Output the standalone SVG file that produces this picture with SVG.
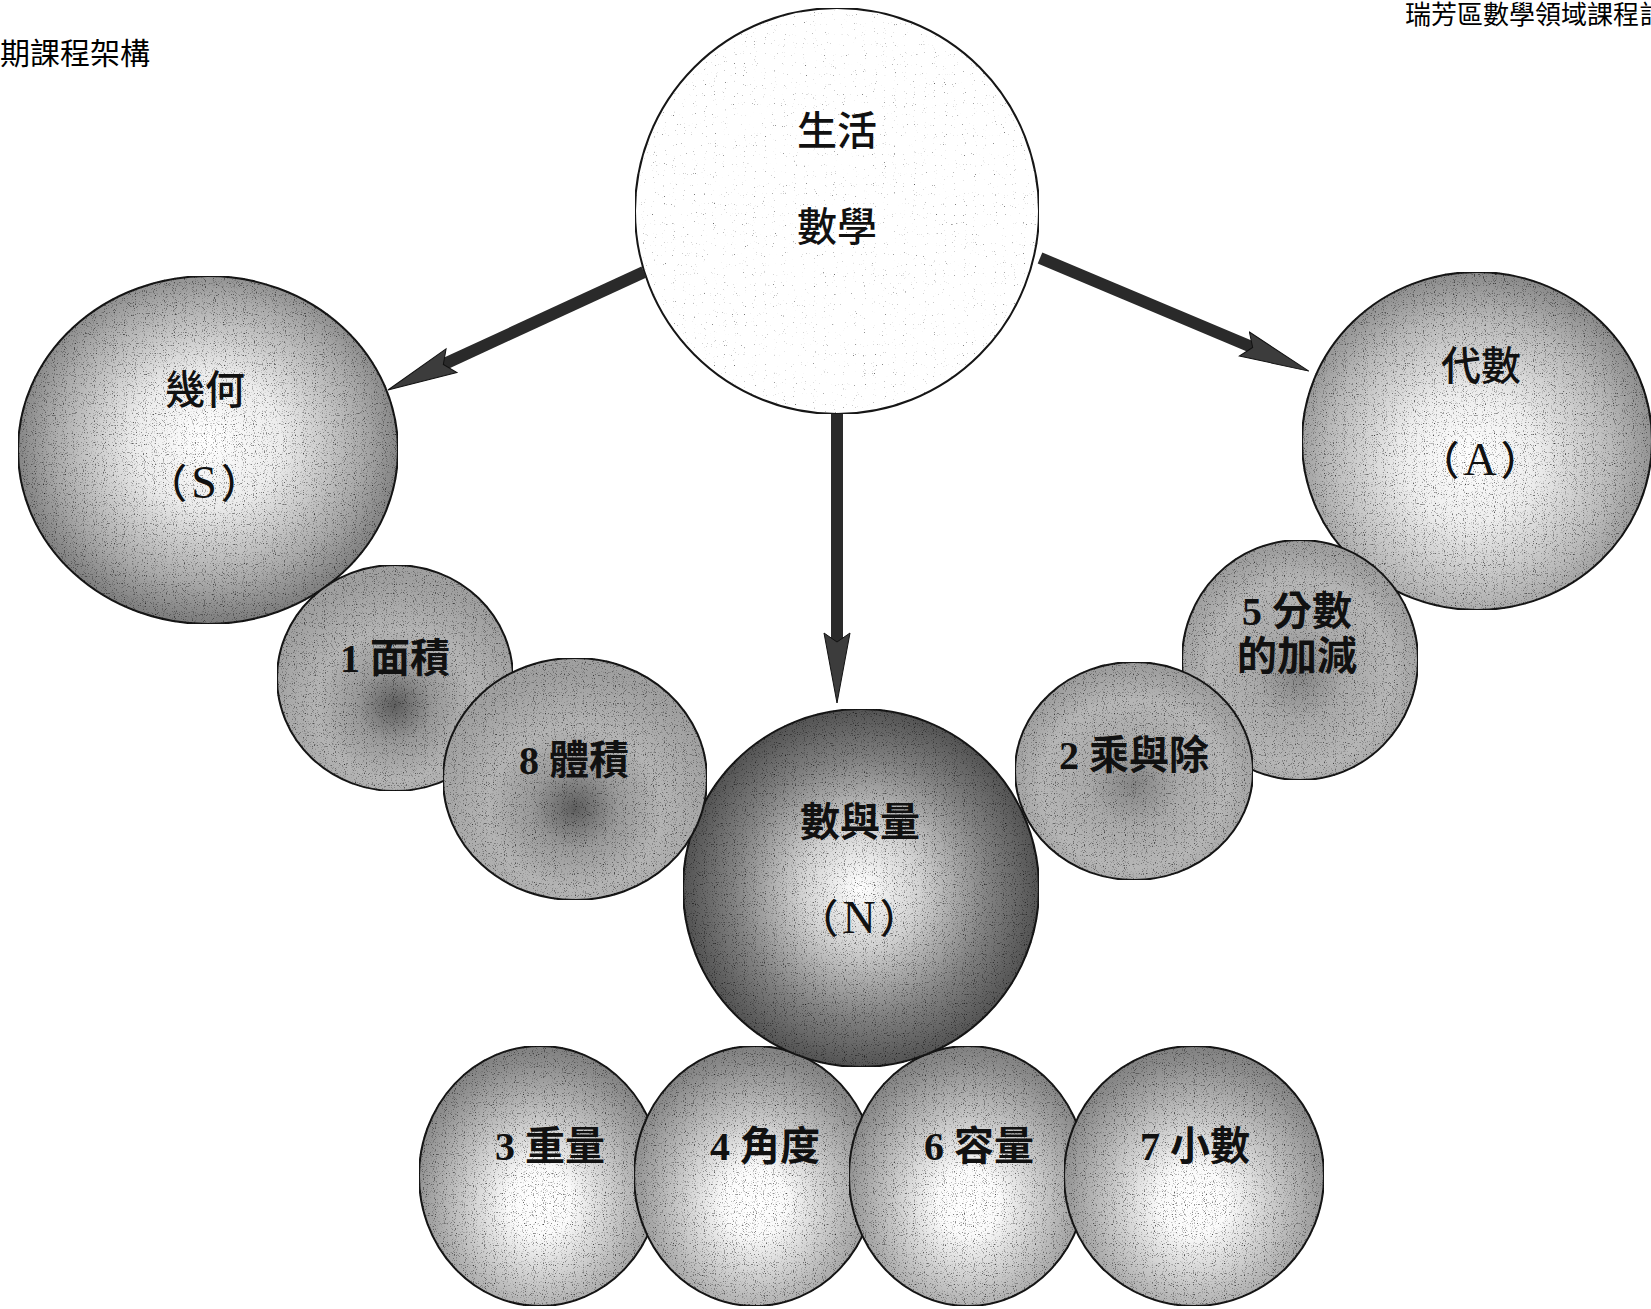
<svg xmlns="http://www.w3.org/2000/svg" width="1651" height="1309" viewBox="0 0 1651 1309">
<style>
.lbl{font-family:"Liberation Serif","Noto Sans CJK TC",serif;text-anchor:middle;fill:#111}
.big{font-size:40px;font-weight:500}
.sm{font-size:40px;font-weight:700}
.par{letter-spacing:4px}
.ltr{font-size:46px}
.node{stroke:#161616;stroke-width:2;filter:url(#grain)}
.hdr{font-family:"Noto Sans CJK TC","Liberation Sans",sans-serif;fill:#000}
.arrow{stroke:#2a2a2a;stroke-width:12;fill:none;marker-end:url(#ah)}
</style>
<defs>
<filter id="grain" x="0" y="0" width="1" height="1" color-interpolation-filters="sRGB">
<feTurbulence type="fractalNoise" baseFrequency="0.9" numOctaves="1" seed="4" result="n"/>
<feColorMatrix in="n" type="matrix" values="0 0 0 0 0 0 0 0 0 0 0 0 0 0 0 2.8 0 0 0 -1.6" result="sp"/>
<feComposite in="sp" in2="SourceGraphic" operator="in" result="s2"/>
<feMerge><feMergeNode in="SourceGraphic"/><feMergeNode in="s2"/></feMerge>
</filter>
<filter id="grainLight" x="0" y="0" width="1" height="1" color-interpolation-filters="sRGB">
<feTurbulence type="fractalNoise" baseFrequency="0.9" numOctaves="1" seed="7" result="n"/>
<feColorMatrix in="n" type="matrix" values="0 0 0 0 0 0 0 0 0 0 0 0 0 0 0 4 0 0 0 -2.75" result="sp"/>
<feComposite in="sp" in2="SourceGraphic" operator="in" result="s2"/>
<feMerge><feMergeNode in="SourceGraphic"/><feMergeNode in="s2"/></feMerge>
</filter>
<marker id="ah" markerUnits="userSpaceOnUse" markerWidth="72" markerHeight="32" viewBox="0 0 72 32" refX="16" refY="16" orient="auto">
<path d="M1,3 L71,16 L1,29 L10,16 Z" fill="#3c3c3c" stroke="#111" stroke-width="1"/>
</marker>
<radialGradient id="gS" cx="0.5" cy="0.47" r="0.55">
<stop offset="0" stop-color="#fff"/><stop offset="0.35" stop-color="#ececec"/><stop offset="0.75" stop-color="#a8a8a8"/><stop offset="1" stop-color="#747474"/>
</radialGradient>
<radialGradient id="gA" cx="0.48" cy="0.55" r="0.55">
<stop offset="0" stop-color="#fff"/><stop offset="0.35" stop-color="#ededed"/><stop offset="0.75" stop-color="#b8b8b8"/><stop offset="1" stop-color="#8a8a8a"/>
</radialGradient>
<radialGradient id="gN" cx="0.5" cy="0.5" r="0.55">
<stop offset="0" stop-color="#fff"/><stop offset="0.3" stop-color="#d2d2d2"/><stop offset="0.65" stop-color="#828282"/><stop offset="1" stop-color="#434343"/>
</radialGradient>
<radialGradient id="gD" cx="0.5" cy="0.62" r="0.55">
<stop offset="0" stop-color="#5e5e5e"/><stop offset="0.3" stop-color="#9a9a9a"/><stop offset="0.6" stop-color="#b4b4b4"/><stop offset="1" stop-color="#a0a0a0"/>
</radialGradient>
<radialGradient id="gE" cx="0.5" cy="0.56" r="0.55">
<stop offset="0" stop-color="#858585"/><stop offset="0.35" stop-color="#aaa"/><stop offset="0.7" stop-color="#b6b6b6"/><stop offset="1" stop-color="#9c9c9c"/>
</radialGradient>
<radialGradient id="gB" cx="0.5" cy="0.6" r="0.6">
<stop offset="0" stop-color="#fff"/><stop offset="0.22" stop-color="#fafafa"/><stop offset="0.55" stop-color="#c4c4c4"/><stop offset="0.9" stop-color="#8c8c8c"/><stop offset="1" stop-color="#808080"/>
</radialGradient>
</defs>
<rect width="1651" height="1309" fill="#fff"/>
<g id="headers">
<text class="hdr" x="0" y="64" font-size="30">期課程架構</text>
<text class="hdr" x="1405" y="24" font-size="26">瑞芳區數學領域課程計</text>
</g>
<g id="node-S">
<ellipse class="node" cx="208" cy="450" rx="190" ry="174" fill="url(#gS)"/>
<text class="lbl big" x="205" y="404">幾何</text>
<text class="lbl big par" x="206" y="498">（<tspan class="ltr">S</tspan>）</text>
</g>
<g id="node-A">
<ellipse class="node" cx="1477" cy="441" rx="175" ry="169" fill="url(#gA)"/>
<text class="lbl big" x="1481" y="380">代數</text>
<text class="lbl big par" x="1482" y="475">（<tspan class="ltr">A</tspan>）</text>
</g>
<g id="node-life">
<ellipse cx="837" cy="211" rx="202" ry="203" fill="#fff" stroke="#161616" stroke-width="2" filter="url(#grainLight)"/>
<text class="lbl big" x="837" y="145">生活</text>
<text class="lbl big" x="837" y="241">數學</text>
</g>
<g id="connectors">
<line class="arrow" x1="644" y1="272" x2="437.9" y2="367"/>
<line class="arrow" x1="1040" y1="258" x2="1258.2" y2="349.8"/>
<line class="arrow" x1="837" y1="414" x2="837" y2="648"/>
</g>
<g id="node-3">
<ellipse class="node" cx="540" cy="1176" rx="121" ry="130" fill="url(#gB)"/>
<text class="lbl sm" x="550" y="1160">3 重量</text>
</g>
<g id="node-4">
<ellipse class="node" cx="755" cy="1176" rx="121" ry="130" fill="url(#gB)"/>
<text class="lbl sm" x="765" y="1160">4 角度</text>
</g>
<g id="node-6">
<ellipse class="node" cx="968" cy="1176" rx="119" ry="130" fill="url(#gB)"/>
<text class="lbl sm" x="979" y="1160">6 容量</text>
</g>
<g id="node-7">
<ellipse class="node" cx="1194" cy="1176" rx="130" ry="130" fill="url(#gB)"/>
<text class="lbl sm" x="1195" y="1160">7 小數</text>
</g>
<g id="node-N">
<ellipse class="node" cx="861" cy="888" rx="178" ry="179" fill="url(#gN)"/>
<text class="lbl sm" x="860" y="836">數與量</text>
<text class="lbl big par" x="861" y="933">（<tspan class="ltr">N</tspan>）</text>
</g>
<g id="node-1">
<ellipse class="node" cx="395" cy="678" rx="118" ry="113" fill="url(#gD)"/>
<text class="lbl sm" x="395" y="672">1 面積</text>
</g>
<g id="node-8">
<ellipse class="node" cx="575" cy="779" rx="132" ry="121" fill="url(#gD)"/>
<text class="lbl sm" x="574" y="774">8 體積</text>
</g>
<g id="node-5">
<ellipse class="node" cx="1300" cy="660" rx="118" ry="120" fill="url(#gE)"/>
<text class="lbl sm" x="1297" y="625" font-size="34">5 分數</text>
<text class="lbl sm" x="1297" y="670" font-size="34">的加減</text>
</g>
<g id="node-2">
<ellipse class="node" cx="1134" cy="771" rx="119" ry="109" fill="url(#gE)"/>
<text class="lbl sm" x="1134" y="769" font-size="37">2 乘與除</text>
</g>
</svg>
